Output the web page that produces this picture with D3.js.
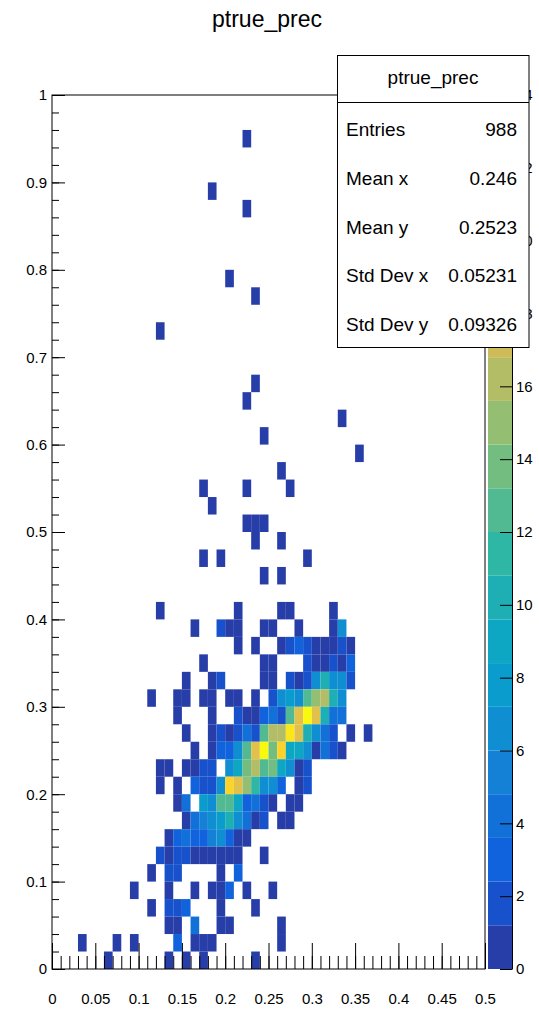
<!DOCTYPE html>
<html>
<head>
<meta charset="utf-8">
<script src="https://cdn.jsdelivr.net/npm/d3@7"></script>
<style>
  body { margin: 0; background: #fff; }
  text { font-family: "Liberation Sans", Arial, Helvetica, sans-serif; fill: #000; }
</style>
</head>
<body>
<svg id="chart" width="539" height="1010"></svg>
<script>
// Histogram contents, one row per y bin (lower edge), x = lower edge of each filled bin
var binW = 0.01;
var binH = 0.02;

var rowY = [0.94, 0.88, 0.86, 0.78, 0.76, 0.72, 0.66, 0.64, 0.62, 0.60, 0.58, 0.56, 0.54, 0.52, 0.50, 0.48,
  0.46, 0.44, 0.40, 0.38, 0.36, 0.34, 0.32, 0.30, 0.28, 0.26, 0.24, 0.22, 0.20, 0.18, 0.16, 0.14,
  0.12, 0.10, 0.08, 0.06, 0.04, 0.02, 0.00];

var rowX = [
  [0.22], [0.18], [0.22], [0.20], [0.23], [0.12], [0.23], [0.22], [0.33], [0.24], [0.35], [0.26],
  [0.17, 0.22, 0.27], [0.18], [0.22, 0.23, 0.24], [0.23, 0.26], [0.17, 0.19, 0.29], [0.24, 0.26],
  [0.12, 0.21, 0.26, 0.27, 0.32],
  [0.16, 0.19, 0.20, 0.21, 0.24, 0.25, 0.28, 0.32, 0.33],
  [0.21, 0.23, 0.26, 0.27, 0.28, 0.29, 0.30, 0.31, 0.32, 0.33, 0.34],
  [0.17, 0.24, 0.25, 0.29, 0.30, 0.31, 0.32, 0.33, 0.34],
  [0.15, 0.18, 0.19, 0.24, 0.25, 0.27, 0.28, 0.29, 0.30, 0.31, 0.32, 0.33, 0.34],
  [0.11, 0.14, 0.15, 0.17, 0.18, 0.20, 0.21, 0.23, 0.25, 0.26, 0.27, 0.28, 0.29, 0.30, 0.31, 0.32, 0.33],
  [0.14, 0.18, 0.21, 0.22, 0.23, 0.24, 0.25, 0.26, 0.27, 0.28, 0.29, 0.30, 0.31, 0.32, 0.33],
  [0.15, 0.18, 0.19, 0.20, 0.21, 0.22, 0.23, 0.24, 0.25, 0.26, 0.27, 0.28, 0.29, 0.30, 0.31, 0.32, 0.34, 0.36],
  [0.16, 0.18, 0.19, 0.20, 0.21, 0.22, 0.23, 0.24, 0.25, 0.26, 0.27, 0.28, 0.29, 0.30, 0.31, 0.32, 0.33],
  [0.12, 0.13, 0.15, 0.16, 0.17, 0.18, 0.20, 0.21, 0.22, 0.23, 0.24, 0.25, 0.26, 0.27, 0.28, 0.29],
  [0.12, 0.14, 0.16, 0.17, 0.18, 0.19, 0.20, 0.21, 0.22, 0.23, 0.24, 0.25, 0.26, 0.28, 0.29],
  [0.14, 0.15, 0.17, 0.18, 0.19, 0.20, 0.21, 0.22, 0.23, 0.24, 0.25, 0.27, 0.28],
  [0.15, 0.16, 0.17, 0.18, 0.19, 0.20, 0.21, 0.22, 0.23, 0.24, 0.26, 0.27],
  [0.13, 0.14, 0.15, 0.16, 0.17, 0.18, 0.19, 0.20, 0.21, 0.22],
  [0.12, 0.13, 0.14, 0.15, 0.16, 0.17, 0.18, 0.19, 0.20, 0.21, 0.24],
  [0.11, 0.13, 0.14, 0.19, 0.21],
  [0.09, 0.13, 0.16, 0.18, 0.19, 0.20, 0.22, 0.25],
  [0.11, 0.13, 0.14, 0.15, 0.19, 0.23],
  [0.13, 0.14, 0.16, 0.19, 0.20, 0.26],
  [0.03, 0.07, 0.09, 0.14, 0.16, 0.17, 0.18, 0.26],
  [0.06, 0.13, 0.15, 0.17, 0.23]
];

var rowN = [
  [1], [1], [1], [1], [1], [1], [1], [1], [1], [1], [1], [1],
  [1, 1, 1], [1], [1, 1, 1], [1, 1], [1, 1, 1], [1, 1],
  [1, 1, 1, 1, 1],
  [1, 2, 1, 1, 1, 1, 1, 1, 7],
  [1, 1, 1, 2, 3, 2, 1, 1, 1, 2, 1],
  [1, 1, 1, 2, 1, 1, 2, 1, 3],
  [1, 1, 2, 1, 1, 2, 1, 2, 7, 10, 7, 7, 2],
  [1, 1, 1, 1, 1, 1, 1, 1, 2, 7, 8, 7, 13, 15, 16, 10, 7],
  [1, 1, 2, 1, 1, 3, 4, 2, 13, 19, 24, 19, 10, 4, 4],
  [1, 1, 2, 1, 2, 4, 2, 13, 16, 16, 22, 19, 10, 7, 4, 2, 1, 1],
  [1, 1, 3, 3, 7, 13, 19, 24, 14, 21, 9, 9, 7, 1, 4, 2, 1],
  [1, 1, 1, 1, 2, 2, 7, 9, 14, 16, 13, 14, 9, 7, 1, 2],
  [1, 1, 3, 2, 2, 7, 21, 19, 15, 11, 7, 7, 3, 1, 2],
  [1, 4, 8, 7, 13, 13, 9, 3, 4, 2, 1, 1, 1],
  [1, 4, 5, 7, 8, 10, 7, 4, 1, 2, 1, 1],
  [1, 3, 4, 3, 3, 5, 7, 3, 1, 1],
  [2, 1, 2, 2, 1, 1, 1, 1, 1, 1, 1],
  [1, 2, 2, 1, 3],
  [1, 1, 1, 1, 1, 3, 1, 1],
  [1, 2, 2, 3, 1, 1],
  [1, 1, 4, 1, 1, 1],
  [1, 1, 1, 3, 1, 1, 1, 1],
  [1, 1, 1, 1, 1]
];

var xTicks = [0, 0.05, 0.1, 0.15, 0.2, 0.25, 0.3, 0.35, 0.4, 0.45, 0.5];
var yTicks = [0, 0.1, 0.2, 0.3, 0.4, 0.5, 0.6, 0.7, 0.8, 0.9, 1];
var zTicks = [0, 2, 4, 6, 8, 10, 12, 14, 16, 18, 20, 22, 24];

var statNames = ["Entries", "Mean x", "Mean y", "Std Dev x", "Std Dev y"];
var statValues = ["988", "0.246", "0.2523", "0.05231", "0.09326"];

// ROOT kBird palette
var birdStops = [0.0000, 0.1250, 0.2500, 0.3750, 0.5000, 0.6250, 0.7500, 0.8750, 1.0000];
var birdRed = [0.2082, 0.0592, 0.0780, 0.0232, 0.1802, 0.5301, 0.8186, 0.9956, 0.9764];
var birdGreen = [0.1664, 0.3599, 0.5041, 0.6419, 0.7178, 0.7492, 0.7328, 0.7862, 0.9832];
var birdBlue = [0.5293, 0.8684, 0.8385, 0.7914, 0.6425, 0.4662, 0.3499, 0.1968, 0.0539];

var nLevels = 20;

function birdColor(f) {
  var k = 1;
  while (k < birdStops.length - 1 && f > birdStops[k]) k++;
  var t = (f - birdStops[k - 1]) / (birdStops[k] - birdStops[k - 1]);
  return d3.rgb(
    255 * (birdRed[k - 1] + t * (birdRed[k] - birdRed[k - 1])),
    255 * (birdGreen[k - 1] + t * (birdGreen[k] - birdGreen[k - 1])),
    255 * (birdBlue[k - 1] + t * (birdBlue[k] - birdBlue[k - 1]))
  ).formatHex();
}

function levelColor(level) {
  var idx = Math.min(254, Math.floor((level + 0.99) * 255 / nLevels));
  return birdColor(idx / 255);
}

// flatten the rows into cells
var cells = [];
rowY.forEach(function(yv, r) {
  rowX[r].forEach(function(xv, c) {
    cells.push({ x: xv, y: yv, n: rowN[r][c] });
  });
});

var zMax = d3.max(cells, function(d) { return d.n; });

var svg = d3.select("#chart");

var xScale = d3.scaleLinear().domain([0, 0.5]).range([52, 485]);
var yScale = d3.scaleLinear().domain([0, 1]).range([969, 95]);
var zScale = d3.scaleLinear().domain([0, zMax]).range([969, 95]);

function cellLevel(n) {
  return Math.min(nLevels - 1, Math.floor(0.01 + n * nLevels / zMax));
}

// title
svg.append("text")
  .attr("x", 267)
  .attr("y", 27)
  .attr("text-anchor", "middle")
  .style("font-size", "23px")
  .text("ptrue_prec");

// cells
svg.append("g")
  .selectAll("rect")
  .data(cells)
  .enter()
  .append("rect")
  .attr("x", function(d) { return xScale(d.x); })
  .attr("y", function(d) { return yScale(d.y + binH); })
  .attr("width", function(d) { return xScale(d.x + binW) - xScale(d.x); })
  .attr("height", function(d) { return yScale(d.y) - yScale(d.y + binH); })
  .attr("fill", function(d) { return levelColor(cellLevel(d.n)); });

// frame
svg.append("rect")
  .attr("x", 52)
  .attr("y", 95)
  .attr("width", 433)
  .attr("height", 874)
  .attr("fill", "none")
  .attr("stroke", "#000")
  .attr("stroke-width", 1);

// x axis: major ticks with labels, minor ticks every 0.01
var xMinor = d3.range(0, 51).map(function(k) { return k / 100; });
svg.append("g")
  .attr("transform", "translate(0,969)")
  .call(d3.axisBottom(xScale).tickValues(xMinor).tickSize(-13).tickFormat(""))
  .call(function(g) { g.select(".domain").remove(); });
svg.append("g")
  .attr("transform", "translate(0,969)")
  .call(d3.axisBottom(xScale).tickValues(xTicks).tickSize(-26).tickSizeOuter(0).tickPadding(24)
    .tickFormat(function(d) { return String(+d.toFixed(2)); }))
  .call(function(g) { g.select(".domain").remove(); });

// y axis
var yMinor = d3.range(0, 51).map(function(k) { return k / 50; });
svg.append("g")
  .attr("transform", "translate(52,0)")
  .call(d3.axisLeft(yScale).tickValues(yMinor).tickSize(-7).tickFormat(""))
  .call(function(g) { g.select(".domain").remove(); });
svg.append("g")
  .attr("transform", "translate(52,0)")
  .call(d3.axisLeft(yScale).tickValues(yTicks).tickSize(-13).tickPadding(5)
    .tickFormat(function(d) { return String(+d.toFixed(1)); }))
  .call(function(g) { g.select(".domain").remove(); });

// palette
var levels = d3.range(nLevels);
var dz = zMax / nLevels;
svg.append("g")
  .selectAll("rect")
  .data(levels)
  .enter()
  .append("rect")
  .attr("x", 488)
  .attr("y", function(l) { return zScale((l + 1) * dz); })
  .attr("width", 24)
  .attr("height", function(l) { return zScale(l * dz) - zScale((l + 1) * dz); })
  .attr("fill", function(l) { return levelColor(l); });

svg.append("g")
  .attr("transform", "translate(512,0)")
  .call(d3.axisRight(zScale).tickValues(zTicks).tickSize(-12).tickSizeOuter(0).tickPadding(4));

svg.selectAll(".tick text").style("font-size", "15px").style("font-family", "'Liberation Sans', Arial, sans-serif");
svg.selectAll(".tick line").attr("stroke", "#000");

// stats box
var stats = svg.append("g");
stats.append("rect")
  .attr("x", 337.5)
  .attr("y", 55.5)
  .attr("width", 191.5)
  .attr("height", 292)
  .attr("fill", "#fff")
  .attr("stroke", "#000");
stats.append("line")
  .attr("x1", 337.5).attr("x2", 529)
  .attr("y1", 102.5).attr("y2", 102.5)
  .attr("stroke", "#000");
stats.append("text")
  .attr("x", 433)
  .attr("y", 84)
  .attr("text-anchor", "middle")
  .style("font-size", "19px")
  .text("ptrue_prec");
statNames.forEach(function(name, k) {
  var yy = 136 + k * 48.8;
  stats.append("text").attr("x", 346).attr("y", yy).style("font-size", "19px").text(name);
  stats.append("text").attr("x", 517).attr("y", yy).attr("text-anchor", "end")
    .style("font-size", "19px").text(statValues[k]);
});
</script>
</body>
</html>
